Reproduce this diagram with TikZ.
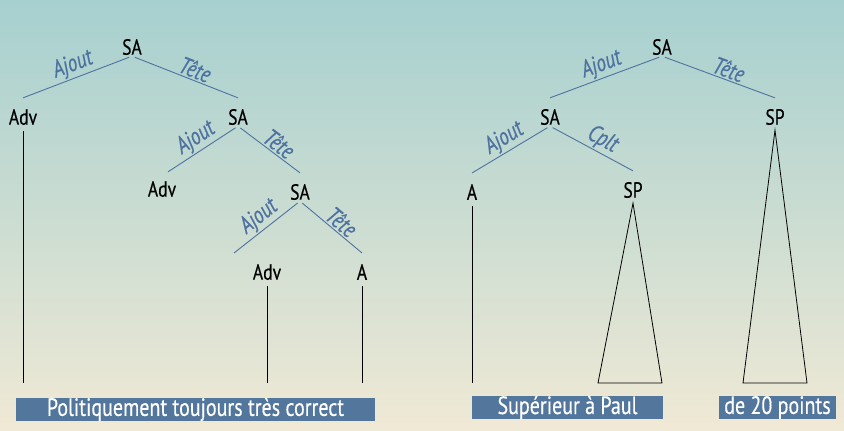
\documentclass[tikz,border=0pt]{standalone}
\usepackage{xcolor}
\usepackage{fontspec}
\setmainfont{PT Sans}[FakeStretch=0.8, FakeBold=0.4]
\usepackage{tikz}
\usetikzlibrary{positioning}

\definecolor{arcblue}{HTML}{4E72A0}
\definecolor{boxblue}{HTML}{52769C}
\definecolor{skytop}{HTML}{A6D0CF}
\definecolor{skymid}{HTML}{DCE2D3}
\definecolor{sandbot}{HTML}{F0E9D5}

\begin{document}
\begin{tikzpicture}[x=1pt, y=-1pt,
		cat/.style={font=\fontsize{22}{22}\selectfont, inner sep=1pt},
		arc/.style={arcblue, line width=0.9pt, shorten <=3pt},
		fn/.style={sloped, above, text=arcblue, inner sep=1.5pt,
			font=\itshape\fontsize{24}{24}\selectfont},
		trunk/.style={line width=0.8pt, shorten <=5pt},
		band/.style={fill=boxblue, text=white, inner sep=0pt,
			minimum height=23pt, font=\fontsize{25}{25}\selectfont}]
	% paper background, teal at the top fading into sand
	\shade[top color=skytop, middle color=skymid, bottom color=sandbot]
		(0,0) rectangle (844,431);
	\useasboundingbox (0,0) rectangle (844,431);
	\coordinate (floor) at (0,383);

	% left tree
	\node[cat] (sa1) at (132,47) {SA};
	\node[cat] (adv1) at (23,117) {Adv};
	\node[cat] (sa2) at (238,117) {SA};
	\node[cat] (adv2) at (162,189) {Adv};
	\node[cat] (sa3) at (300,192) {SA};
	\node[cat] (adv3) at (267,272) {Adv};
	\node[cat] (a3) at (362,272) {A};
	\coordinate (aj3) at (234,253);

	\draw[arc] (sa1.south) -- ([yshift=10pt]adv1.north) node[fn, midway] {Ajout};
	\draw[arc] (sa1.south) -- ([yshift=10pt]sa2.north) node[fn, pos=0.56] {Tête};
	\draw[arc] (sa2.south) -- ([xshift=6pt, yshift=8pt]adv2.north) node[fn, midway] {Ajout};
	\draw[arc] (sa2.south) -- ([yshift=10pt]sa3.north) node[fn, pos=0.56] {Tête};
	\draw[arc] (sa3.south) -- (aj3) node[fn, midway] {Ajout};
	\draw[arc] (sa3.south) -- ([yshift=10pt]a3.north) node[fn, pos=0.56] {Tête};

	\foreach \leaf in {adv1, adv3, a3}
		\draw[trunk] (\leaf.south) -- (\leaf.south |- floor);

	% right tree
	\node[cat] (sa4) at (662,47) {SA};
	\node[cat] (sa5) at (550,117) {SA};
	\node[cat] (sp5) at (775,117) {SP};
	\node[cat] (a5) at (472,192) {A};
	\node[cat] (sp6) at (633,190) {SP};

	\draw[arc] (sa4.south) -- ([yshift=10pt]sa5.north) node[fn, midway] {Ajout};
	\draw[arc] (sa4.south) -- ([yshift=10pt]sp5.north) node[fn, pos=0.56] {Tête};
	\draw[arc] (sa5.south) -- ([yshift=10pt]a5.north) node[fn, midway] {Ajout};
	\draw[arc] (sa5.south) -- ([yshift=10pt]sp6.north) node[fn, pos=0.56] {Cplt};

	\draw[trunk] (a5.south) -- (a5.south |- floor);
	% unexpanded phrases as triangles
	\coordinate (sp6l) at (598,383);
	\coordinate (sp6r) at (662,383);
	\coordinate (sp5l) at (743,383);
	\coordinate (sp5r) at (807,383);
	\draw[line width=0.8pt] ([yshift=-4pt]sp6.south) -- (sp6l) -- (sp6r) -- cycle;
	\draw[line width=0.8pt] ([yshift=-4pt]sp5.south) -- (sp5l) -- (sp5r) -- cycle;

	% surface strings
	\node[band, minimum width=359pt] (phrase) at (195.5,409.5) {Politiquement toujours très correct};
	\node[band, minimum width=191pt] (sup) at (567.5,407.5) {Supérieur à Paul};
	\node[band, minimum width=117pt] (pts) at (777.5,407.5) {de 20 points};
\end{tikzpicture}
\end{document}
